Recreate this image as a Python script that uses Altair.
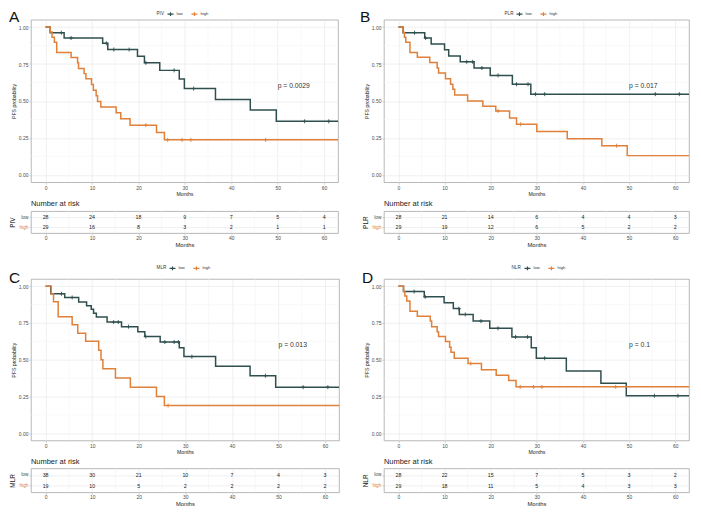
import altair as alt
import pandas as pd

FONT = "Liberation Sans"
GROUPS = ["low", "high"]
COLORS = ["#2F4F4F", "#E0803A"]
MONTHS = [0, 10, 20, 30, 40, 50, 60]
MINOR_X = [5, 15, 25, 35, 45, 55]
MAJOR_Y = [0, 0.25, 0.5, 0.75, 1.0]
MINOR_Y = [0.125, 0.375, 0.625, 0.875]
X_MIN, X_MAX = -3.15, 63

# ---- Panel A : PIV ----
A_LOW_T = [0, 1.0, 4.0, 12.3, 13.4, 19.8, 21.3, 24.6, 28.8, 29.9, 36.6, 44.1, 49.7]
A_LOW_S = [1.0, 0.962, 0.926, 0.890, 0.848, 0.803, 0.758, 0.707, 0.649, 0.584, 0.510, 0.438, 0.362]
A_LOW_C = [3.4, 5.5, 13.1, 14.7, 18.0, 21.6, 27.7, 31.9, 55.8, 61.0]
A_HIGH_T = [0, 1.0, 1.4, 1.9, 2.4, 5.5, 6.9, 7.1, 8.3, 8.7, 9.9, 10.3, 10.9, 11.2, 11.9, 15.2, 16.2, 18.2, 23.9, 25.6]
A_HIGH_S = [1.0, 0.966, 0.931, 0.897, 0.828, 0.794, 0.758, 0.720, 0.685, 0.650, 0.611, 0.573, 0.535, 0.497, 0.459, 0.420, 0.380, 0.336, 0.286, 0.237]
A_HIGH_C = [21.6, 26.3, 29.4, 31.3, 47.4]
A_RISK_LOW = [28, 24, 18, 9, 7, 5, 4]
A_RISK_HIGH = [29, 16, 8, 3, 2, 1, 1]

# ---- Panel B : PLR ----
B_LOW_T = [0, 1.0, 5.7, 7.1, 10.0, 10.9, 13.4, 16.4, 19.9, 24.7, 28.7]
B_LOW_S = [1.0, 0.962, 0.926, 0.886, 0.846, 0.805, 0.765, 0.723, 0.673, 0.613, 0.546]
B_LOW_C = [3.5, 5.9, 14.8, 16.1, 18.1, 21.6, 25.6, 28.1, 29.7, 31.7, 55.7, 60.9]
B_HIGH_T = [0, 1.0, 1.3, 1.6, 2.5, 4.1, 6.8, 8.4, 8.7, 10.2, 11.3, 11.8, 12.2, 15.0, 18.3, 21.1, 24.1, 25.6, 30.0, 36.6, 44.1, 49.6]
B_HIGH_S = [1.0, 0.965, 0.931, 0.897, 0.828, 0.796, 0.760, 0.723, 0.690, 0.650, 0.613, 0.580, 0.540, 0.500, 0.465, 0.432, 0.385, 0.342, 0.293, 0.244, 0.197, 0.130]
B_HIGH_C = [21.6, 26.5, 47.3]
B_RISK_LOW = [28, 21, 14, 6, 4, 4, 3]
B_RISK_HIGH = [29, 19, 12, 6, 5, 2, 2]

# ---- Panel C : MLR ----
C_LOW_T = [0, 1.1, 4.1, 7.1, 8.8, 9.8, 10.3, 10.9, 13.2, 16.3, 19.8, 21.3, 24.6, 28.7, 29.7, 36.5, 43.9, 49.4]
C_LOW_S = [1.0, 0.949, 0.924, 0.893, 0.868, 0.843, 0.816, 0.790, 0.756, 0.725, 0.691, 0.658, 0.620, 0.582, 0.521, 0.456, 0.391, 0.313]
C_LOW_C = [3.4, 5.7, 14.6, 15.6, 17.8, 21.5, 25.6, 27.6, 28.5, 31.4, 47.2, 55.3, 60.6]
C_HIGH_T = [0, 1.2, 1.7, 2.7, 5.7, 6.9, 8.6, 11.4, 11.9, 12.3, 15.0, 18.2, 23.8, 25.5]
C_HIGH_S = [1.0, 0.948, 0.895, 0.792, 0.738, 0.680, 0.626, 0.564, 0.499, 0.438, 0.376, 0.313, 0.250, 0.188]
C_HIGH_C = [26.3]
C_RISK_LOW = [38, 30, 21, 10, 7, 4, 3]
C_RISK_HIGH = [19, 10, 5, 2, 2, 2, 2]

# ---- Panel D : NLR ----
D_LOW_T = [0, 1.1, 5.6, 9.9, 11.9, 13.2, 16.2, 19.8, 24.6, 28.8, 29.9, 36.4, 43.9, 49.4]
D_LOW_S = [1.0, 0.964, 0.928, 0.888, 0.848, 0.808, 0.763, 0.714, 0.655, 0.582, 0.510, 0.423, 0.340, 0.255]
D_LOW_C = [3.4, 5.8, 13.1, 14.5, 17.9, 21.6, 25.4, 28.0, 31.7, 55.5, 60.6]
D_HIGH_T = [0, 1.1, 1.4, 1.8, 2.5, 4.1, 6.9, 7.2, 8.4, 8.7, 10.2, 11.1, 11.4, 12.1, 15.1, 18.0, 21.2, 23.9, 25.5]
D_HIGH_S = [1.0, 0.964, 0.933, 0.900, 0.830, 0.796, 0.763, 0.725, 0.691, 0.658, 0.624, 0.584, 0.550, 0.510, 0.474, 0.432, 0.394, 0.358, 0.315]
D_HIGH_C = [15.7, 26.4, 29.3, 31.1, 47.1]
D_RISK_LOW = [28, 22, 15, 7, 5, 3, 2]
D_RISK_HIGH = [29, 18, 11, 5, 4, 3, 3]

PANEL_LETTERS = ["A", "B", "C", "D"]

CROSS = "M0,-1L0,1M-1,0L1,0"
LEG_SYMBOL = "M-1,0L1,0M0,-0.6L0,0.6"
MAJOR_GRID = "#E6E6E6"
MINOR_GRID = "#F2F2F2"


def curve_rows(t, s, g):
    rows = [{"time": a, "surv": b, "group": g} for a, b in zip(t, s)]
    rows.append({"time": X_MAX, "surv": s[-1], "group": g})
    return rows


def surv_at(t, s, c):
    val = s[0]
    for a, b in zip(t, s):
        if a <= c:
            val = b
    return val


def censor_rows(t, s, cs, g):
    return [{"time": c, "surv": surv_at(t, s, c), "group": g} for c in cs]


def km_chart(var, letter, low, high, pval, width, height, legend_x, legend_y, letter_x, letter_y):
    lt, ls, lc = low
    ht, hs, hc = high
    lines = pd.DataFrame(curve_rows(lt, ls, "low") + curve_rows(ht, hs, "high"))
    cens = pd.DataFrame(censor_rows(lt, ls, lc, "low") + censor_rows(ht, hs, hc, "high"))
    xs = alt.Scale(domain=[X_MIN, X_MAX], nice=False, zero=False)
    ys = alt.Scale(domain=[-0.05, 1.05], nice=False, zero=False)
    xaxis = alt.Axis(values=MONTHS, title="Months", labelFontSize=5, titleFontSize=5.2,
                     labelPadding=1, titlePadding=1, tickSize=2, grid=True)
    yaxis = alt.Axis(values=MAJOR_Y, format=".2f", title="PFS probability", labelFontSize=5,
                     titleFontSize=5.2, labelPadding=1, titlePadding=2, tickSize=2, grid=True)
    color = alt.Color(
        "group:N",
        scale=alt.Scale(domain=GROUPS, range=COLORS),
        legend=alt.Legend(
            title=var, orient="none", legendX=legend_x, legendY=legend_y, direction="horizontal",
            titleOrient="left", titleFontSize=4.6, titleFontWeight="normal", titleColor="#333333",
            labelFontSize=4.2, labelColor="#333333", symbolType=LEG_SYMBOL, symbolSize=36,
            symbolStrokeWidth=1.2, columnPadding=5, labelOffset=2, titlePadding=2, padding=0,
        ),
    )
    vgrid = alt.Chart(pd.DataFrame({"m": MINOR_X})).mark_rule(
        color=MINOR_GRID, strokeWidth=0.5).encode(x=alt.X("m:Q", scale=xs, axis=xaxis))
    hgrid = alt.Chart(pd.DataFrame({"p": MINOR_Y})).mark_rule(
        color=MINOR_GRID, strokeWidth=0.5).encode(y=alt.Y("p:Q", scale=ys, axis=yaxis))
    line = alt.Chart(lines).mark_line(interpolate="step-after", strokeWidth=1.5).encode(
        x=alt.X("time:Q", scale=xs, axis=xaxis),
        y=alt.Y("surv:Q", scale=ys, axis=yaxis),
        color=color,
    )
    pts = alt.Chart(cens).mark_point(shape=CROSS, filled=False, size=16, strokeWidth=0.9, opacity=1).encode(
        x=alt.X("time:Q", scale=xs, axis=xaxis),
        y=alt.Y("surv:Q", scale=ys, axis=yaxis),
        color=color,
    )
    ptxt = alt.Chart(pd.DataFrame({"x": [50], "y": [0.6], "label": [pval]})).mark_text(
        align="left", baseline="middle", fontSize=6.8, font=FONT, color="#333333").encode(
        x=alt.X("x:Q", scale=xs, axis=xaxis),
        y=alt.Y("y:Q", scale=ys, axis=yaxis),
        text="label:N",
    )
    ltxt = alt.Chart(pd.DataFrame({"letter": [letter]})).mark_text(
        align="left", baseline="alphabetic", fontSize=15.5, font=FONT, color="#111111").encode(
        x=alt.value(letter_x), y=alt.value(letter_y), text="letter:N",
    )
    return alt.layer(vgrid, hgrid, line, pts, ptxt, ltxt).properties(width=width, height=height)


def risk_chart(var, low_n, high_n, width, height):
    df = pd.DataFrame({"time": MONTHS * 2, "group": ["low"] * 7 + ["high"] * 7, "n": low_n + high_n})
    xs = alt.Scale(domain=[X_MIN, X_MAX], nice=False, zero=False)
    yscale = alt.Scale(domain=GROUPS, padding=0.6)
    xaxis = alt.Axis(values=MONTHS, title="Months", labelFontSize=5, titleFontSize=5.8,
                     labelPadding=0.5, titlePadding=0.5, tickSize=2, grid=True)
    yaxis = alt.Axis(
        title=var, labelFontSize=4.8, titleFontSize=6.5, labelPadding=1, titlePadding=3, tickSize=2,
        grid=True,
        labelColor={"condition": {"test": "datum.value == 'high'", "value": COLORS[1]}, "value": COLORS[0]},
    )
    vgrid = alt.Chart(pd.DataFrame({"m": MINOR_X})).mark_rule(
        color=MINOR_GRID, strokeWidth=0.6).encode(x=alt.X("m:Q", scale=xs, axis=xaxis))
    txt = alt.Chart(df).mark_text(fontSize=5.3, font=FONT, color="#222222").encode(
        x=alt.X("time:Q", scale=xs, axis=xaxis),
        y=alt.Y("group:N", scale=yscale, axis=yaxis, sort=GROUPS),
        text="n:Q",
    )
    return alt.layer(vgrid, txt).properties(
        width=width, height=height,
        title=alt.TitleParams("Number at risk", anchor="start", frame="group", fontSize=7.5,
                              fontWeight="normal", font=FONT, color="#222222", offset=3),
    )


def spacer(h):
    return alt.Chart(pd.DataFrame({"v": [0]})).mark_point(opacity=0).encode(
        x=alt.value(0), y=alt.value(0)
    ).properties(width=1, height=h, view=alt.ViewBackground(stroke="transparent"))


TOP_LEG_Y, BOT_LEG_Y = -10, -15

kmA = km_chart("PIV", PANEL_LETTERS[0], (A_LOW_T, A_LOW_S, A_LOW_C), (A_HIGH_T, A_HIGH_S, A_HIGH_C),
               "p = 0.0029", 308, 163, 126, TOP_LEG_Y, -22, 2.5)
kmB = km_chart("PLR", PANEL_LETTERS[1], (B_LOW_T, B_LOW_S, B_LOW_C), (B_HIGH_T, B_HIGH_S, B_HIGH_C),
               "p = 0.017", 306, 163, 121, TOP_LEG_Y, -24, 2.5)
kmC = km_chart("MLR", PANEL_LETTERS[2], (C_LOW_T, C_LOW_S, C_LOW_C), (C_HIGH_T, C_HIGH_S, C_HIGH_C),
               "p = 0.013", 309, 162, 126, BOT_LEG_Y, -22, 4.5)
kmD = km_chart("NLR", PANEL_LETTERS[3], (D_LOW_T, D_LOW_S, D_LOW_C), (D_HIGH_T, D_HIGH_S, D_HIGH_C),
               "p = 0.1", 306, 162, 128, BOT_LEG_Y, -22, 4.5)
rkA = risk_chart("PIV", A_RISK_LOW, A_RISK_HIGH, 308, 22)
rkB = risk_chart("PLR", B_RISK_LOW, B_RISK_HIGH, 306, 22)
rkC = risk_chart("MLR", C_RISK_LOW, C_RISK_HIGH, 309, 24)
rkD = risk_chart("NLR", D_RISK_LOW, D_RISK_HIGH, 306, 24)

cells = [
    kmA, kmB,
    spacer(1.3), spacer(1.3),
    rkA, rkB,
    spacer(19), spacer(19),
    kmC, kmD,
    spacer(0.5), spacer(0.5),
    rkC, rkD,
]

chart = alt.concat(
    *cells, columns=2, spacing={"row": 13.5, "column": 45}, bounds="flush", align="each"
).resolve_scale(
    x="independent", y="independent", color="independent"
).properties(
    padding=0, background="white"
).configure(font=FONT).configure_view(
    stroke="#A6A6A6", strokeWidth=0.8
).configure_axis(
    labelFont=FONT, titleFont=FONT, labelColor="#4D4D4D", titleColor="#222222",
    tickColor="#B3B3B3", tickWidth=0.6, domain=False, gridColor=MAJOR_GRID, gridWidth=0.6,
    titleFontWeight="normal",
).configure_legend(labelFont=FONT, titleFont=FONT)

chart.save("out.html", embed_options={"renderer": "svg", "actions": False})
